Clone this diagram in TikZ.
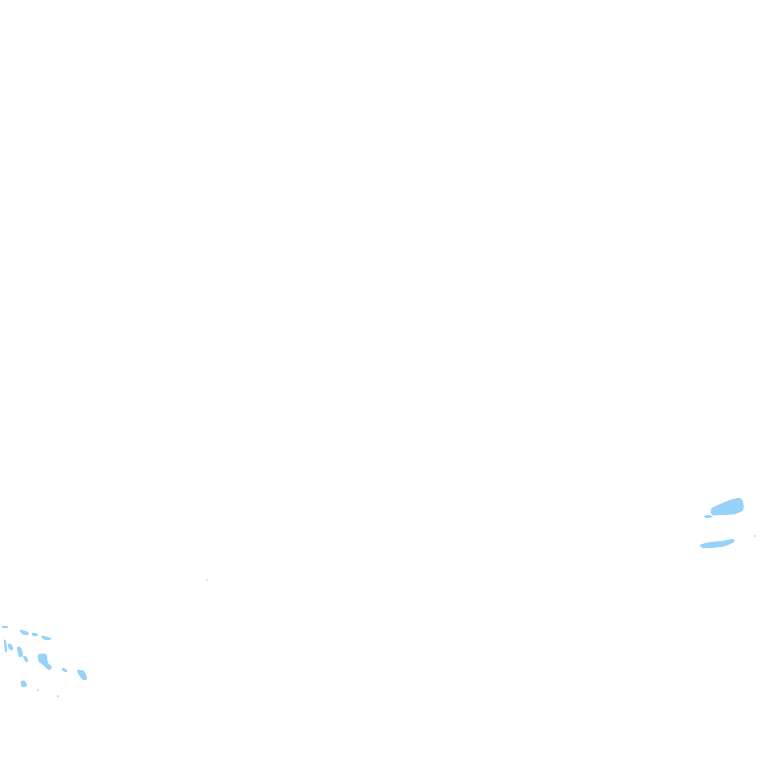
\documentclass[tikz,border=0pt]{standalone}
\definecolor{islandblue}{RGB}{150,210,250}
\tikzset{isle/.style={fill=islandblue, draw=none}}
\begin{document}
\begin{tikzpicture}[x=0.01cm, y=-0.01cm]

% Frame
\useasboundingbox (0,0) rectangle (768,768);

% Islands, right
\fill[isle] plot[smooth cycle] coordinates {(711,509) (718,505) (730,500) (740,498) (743,502) (743,510) (735,514) (722,515) (712,515)};
\fill[isle] plot[smooth cycle] coordinates {(704,516) (709,515) (713,517) (706,518)};
\fill[isle] plot[smooth cycle] coordinates {(700,545) (710,542) (722,541) (733,539) (734,542) (725,546) (712,548) (703,548)};
\fill[isle] (755,536) circle (0.8);

% Islands, left
\fill[isle] plot[smooth cycle] coordinates {(2,626) (7,626) (8,628) (3,628)};
\fill[isle] plot[smooth cycle] coordinates {(20,630) (28,632) (28,635) (22,634)};
\fill[isle] plot[smooth cycle] coordinates {(32,633) (38,634) (37,636) (33,636)};
\fill[isle] plot[smooth cycle] coordinates {(41,636) (48,637) (52,639) (45,640)};
\fill[isle] plot[smooth cycle] coordinates {(4,640) (6,641) (7,651) (5,652)};
\fill[isle] plot[smooth cycle] coordinates {(8,644) (12,645) (13,650) (9,649)};
\fill[isle] plot[smooth cycle] coordinates {(17,647) (21,648) (23,655) (19,657)};
\fill[isle] plot[smooth cycle] coordinates {(23,656) (27,657) (28,662) (25,661)};
\fill[isle] plot[smooth cycle] coordinates {(38,655) (46,654) (48,663) (52,667) (49,670) (42,664) (39,662)};
\fill[isle] plot[smooth cycle] coordinates {(62,668) (66,669) (67,672) (63,671)};
\fill[isle] plot[smooth cycle] coordinates {(77,670) (84,671) (87,679) (83,680) (79,675)};
\fill[isle] plot[smooth cycle] coordinates {(21,681) (25,681) (27,686) (22,687)};
\fill[isle] (38,690) circle (1);
\fill[isle] (58,696) circle (1);
\fill[isle] (207,580) circle (0.8);

\end{tikzpicture}
\end{document}
